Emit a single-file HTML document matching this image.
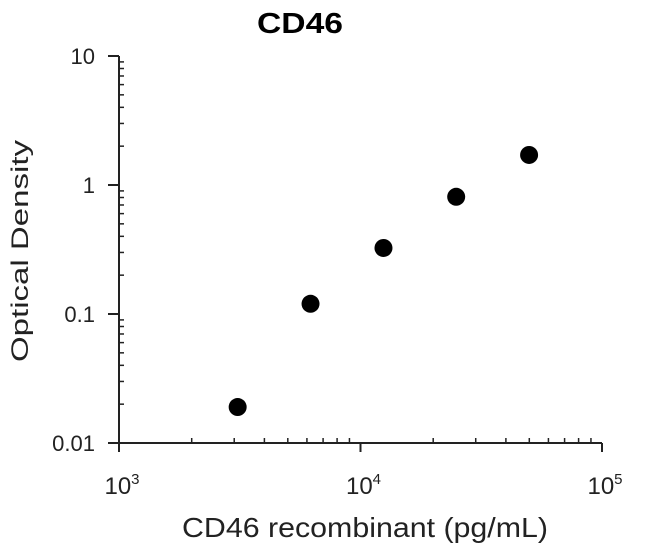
<!DOCTYPE html>
<html><head><meta charset="utf-8"><style>
body{margin:0;background:#fff;}
svg{display:block;font-family:"Liberation Sans",Arial,sans-serif;}
</style></head><body>
<svg id="chart" width="650" height="546">
<text x="300" y="33" font-size="29" font-weight="bold" text-anchor="middle" textLength="86" lengthAdjust="spacingAndGlyphs">CD46</text>
<text x="365" y="537" font-size="28" text-anchor="middle" fill="#222" textLength="366" lengthAdjust="spacingAndGlyphs">CD46 recombinant (pg/mL)</text>
<text transform="translate(28,251) rotate(-90)" font-size="24" text-anchor="middle" fill="#222" textLength="222" lengthAdjust="spacingAndGlyphs">Optical Density</text>
<g id="axes"></g><g id="marks"></g>
</svg>
<script>
const xValues=[3100,6210,12450,24900,49900];
const yValues=[0.019,0.12,0.325,0.81,1.71];
const xTickExps=[3,4,5];
const yTickLabels=["0.01","0.1","1","10"];
const yTickVals=[0.01,0.1,1,10];
const X0=119,XD=241.5,Y0=443,YD=129;
const sx=v=>X0+(Math.log10(v)-3)*XD;
const sy=v=>Y0-(Math.log10(v)+2)*YD;
const NS="http://www.w3.org/2000/svg";
const axes=document.getElementById('axes'),marks=document.getElementById('marks');
function mk(t,a,p){const e=document.createElementNS(NS,t);for(const k in a)e.setAttribute(k,a[k]);p.appendChild(e);return e;}
const xa=mk('line',{x1:X0,y1:Y0,x2:sx(1e5),y2:Y0,stroke:'#222','stroke-width':2},axes);


const ya=mk('line',{x1:X0,y1:Y0,x2:X0,y2:sy(10),stroke:'#222','stroke-width':2},axes);


for(let d=3;d<5;d++)for(let m=2;m<10;m++){const x=sx(m*Math.pow(10,d));mk('line',{x1:x,y1:Y0,x2:x,y2:Y0-5,stroke:'#222','stroke-width':1.5},axes);}
for(let d=-2;d<1;d++)for(let m=2;m<10;m++){const y=sy(m*Math.pow(10,d));mk('line',{x1:X0,y1:y,x2:X0+5,y2:y,stroke:'#222','stroke-width':1.5},axes);}
xTickExps.forEach(e=>{const x=sx(Math.pow(10,e));mk('line',{x1:x,y1:Y0,x2:x,y2:Y0+9,stroke:'#222','stroke-width':2},axes);
const t=mk('text',{x:x+3,y:Y0+51,'font-size':24,'text-anchor':'middle',fill:'#222'},axes);


t.textContent='10';const s=mk('tspan',{'font-size':15,dy:-10},t);s.textContent=e;});
yTickVals.forEach((v,i)=>{const y=sy(v);mk('line',{x1:X0-11,y1:y,x2:X0,y2:y,stroke:'#222','stroke-width':2},axes);
const t=mk('text',{x:X0-24,y:y+8,'font-size':22,'text-anchor':'end',fill:'#222'},axes);


t.textContent=yTickLabels[i];});
xValues.forEach((v,i)=>{const c=mk('circle',{cx:sx(v),cy:sy(yValues[i]),r:9,fill:'#000'},marks);

});
</script>
</body></html>
